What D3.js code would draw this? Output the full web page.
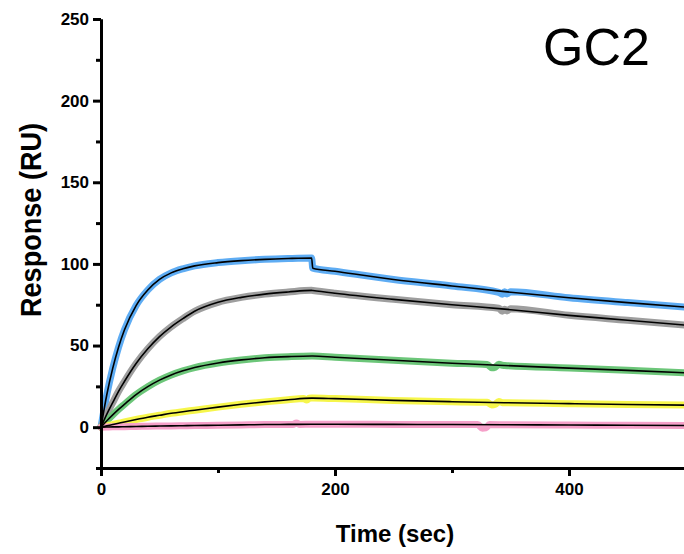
<!DOCTYPE html>
<html lang="en">
<head>
  <meta charset="UTF-8">
  <title>GC2 sensorgram</title>
  <style>
    body { margin: 0; background: #fff; }
    svg { display: block; font-family: "Liberation Sans", Arial, sans-serif; }
  </style>
</head>
<body>
  <svg id="svg" width="684" height="554"></svg>

  <script src="https://d3js.org/d3.v7.min.js"></script>
  <script>
    // ------ DATA -----------------------------------------------
    // shared time points (sec) for association and dissociation phases
    const assocTimes = [0, 5, 10, 15, 20, 30, 40, 50, 60, 70, 80, 100, 120, 140, 160, 180]
    const dissocTimes = [181, 200, 250, 300, 345, 400, 450, 500]

    // fitted response (RU) per concentration
    const blueAssoc = [0, 20, 36, 49, 59.5, 74.5, 84, 90.5, 94.5, 97, 98.8, 100.8, 102, 102.8, 103.3, 103.6]
    const blueDissoc = [97.4, 95.5, 90.5, 86.5, 83, 79.3, 76.3, 73.5]
    const greyAssoc = [0, 8, 15, 22, 28, 39, 48, 55.5, 61.5, 66.5, 71, 76.5, 79.5, 81.5, 82.8, 83.8]
    const greyDissoc = [83.7, 82, 78.3, 75, 72.3, 68.5, 65.5, 62.5]
    const greenAssoc = [0, 3.9, 7.5, 10.9, 14, 20, 24.8, 28.8, 32, 34.5, 36.5, 39.3, 41.2, 42.5, 43.2, 43.6]
    const greenDissoc = [43.6, 42.8, 41, 39.2, 37.8, 36.2, 34.8, 33.3]
    const yellowAssoc = [0, 0.8, 1.6, 2.4, 3.2, 4.7, 6.1, 7.3, 8.5, 9.5, 10.4, 12.3, 14, 15.5, 16.8, 17.8]
    const yellowDissoc = [17.8, 17.5, 16.4, 15.6, 15, 14.4, 13.9, 13.5]
    const pinkAssoc = [0, 0.1, 0.2, 0.2, 0.3, 0.4, 0.6, 0.7, 0.8, 0.9, 1.0, 1.2, 1.4, 1.6, 1.7, 1.8]
    const pinkDissoc = [1.8, 1.8, 1.7, 1.6, 1.5, 1.3, 1.2, 1.0]

    // injection artefacts seen only in the raw traces [time, RU]
    const blueBlips = [[340, 82.6], [343, 81.4], [347, 81.6], [350, 83]]
    const greyBlips = [[340, 72.8], [343, 71], [347, 71.2], [350, 72.6]]
    const greenBlips = [[330, 38.4], [334, 36.4], [337, 36.8], [340, 38.6], [343, 37.9]]
    const yellowBlips = [[173, 17.6], [176, 16.6], [178, 17.7], [330, 15.2], [334, 13.6], [337, 14], [340, 15.8], [343, 15]]
    const pinkBlips = [[164, 1.7], [167, 2.6], [170, 1.7], [322, 1.6], [326, -0.6], [329, -0.4], [332, 1.6]]

    const seriesColors = ['#5eacf3', '#9e9e9e', '#6cc679', '#f6f64b', '#f5a0c9']

    // ticks
    const yMajor = [0, 50, 100, 150, 200, 250]
    const yMinor = [-25, 25, 75, 125, 175, 225]
    const xMajor = [0, 200, 400]
    const xMinor = [100, 300]

    // ------ BUILD SERIES ------------------------
    const times = assocTimes.concat(dissocTimes)
    const fits = [
      blueAssoc.concat(blueDissoc),
      greyAssoc.concat(greyDissoc),
      greenAssoc.concat(greenDissoc),
      yellowAssoc.concat(yellowDissoc),
      pinkAssoc.concat(pinkDissoc)
    ].map(vals => vals.map((v, i) => [times[i], v]))
    const blips = [blueBlips, greyBlips, greenBlips, yellowBlips, pinkBlips]
    const raws = fits.map((f, i) => f.concat(blips[i]).sort((a, b) => a[0] - b[0]))

    // ------ SCALES ------------------------
    const x = d3.scaleLinear().domain([0, 500]).range([101, 686])
    const y = d3.scaleLinear().domain([-25, 250]).range([468, 19])

    const svg = d3.select('#svg')

    // ------ LINES ------------------------
    const line = d3.line()
      .x(d => x(d[0]))
      .y(d => y(d[1]))
      .curve(d3.curveMonotoneX)

    // raw traces, thick and coloured
    svg.append('g')
      .selectAll('path')
      .data(raws)
      .join('path')
      .attr('d', line)
      .attr('fill', 'none')
      .attr('stroke', (d, i) => seriesColors[i])
      .attr('stroke-width', 7)
      .attr('stroke-linejoin', 'round')
      .attr('stroke-linecap', 'round')

    // fitted curves, thin black on top
    svg.append('g')
      .selectAll('path')
      .data(fits)
      .join('path')
      .attr('d', line)
      .attr('fill', 'none')
      .attr('stroke', '#000')
      .attr('stroke-width', 1.6)

    // ------ AXES ------------------------
    function styleAxis(g) {
      g.select('.domain').attr('stroke-width', 3)
      g.selectAll('.tick line').attr('stroke-width', 3)
      g.selectAll('.tick text')
        .attr('font-size', 17)
        .attr('font-weight', 'bold')
        .attr('fill', '#000')
        .attr('font-family', '"Liberation Sans", Arial, sans-serif')
    }

    svg.append('g')
      .attr('transform', `translate(0, ${y(-25)})`)
      .call(d3.axisBottom(x).tickValues(xMinor).tickSize(5).tickSizeOuter(0).tickFormat(''))
      .call(styleAxis)
    svg.append('g')
      .attr('transform', `translate(0, ${y(-25)})`)
      .call(d3.axisBottom(x).tickValues(xMajor).tickSize(8).tickSizeOuter(0).tickPadding(7))
      .call(styleAxis)

    svg.append('g')
      .attr('transform', `translate(${x(0)}, 0)`)
      .call(d3.axisLeft(y).tickValues(yMinor).tickSize(5).tickSizeOuter(0).tickFormat(''))
      .call(styleAxis)
    svg.append('g')
      .attr('transform', `translate(${x(0)}, 0)`)
      .call(d3.axisLeft(y).tickValues(yMajor).tickSize(8).tickSizeOuter(0).tickPadding(4))
      .call(styleAxis)

    // ------ TITLES ------------------------
    svg.append('text')
      .attr('x', 395)
      .attr('y', 542)
      .attr('text-anchor', 'middle')
      .attr('font-size', 24)
      .attr('font-weight', 'bold')
      .text('Time (sec)')

    svg.append('text')
      .attr('transform', 'translate(41, 220) rotate(-90)')
      .attr('text-anchor', 'middle')
      .attr('font-size', 29)
      .attr('font-weight', 'bold')
      .attr('textLength', 194)
      .attr('lengthAdjust', 'spacingAndGlyphs')
      .text('Response (RU)')

    svg.append('text')
      .attr('x', 543)
      .attr('y', 65)
      .attr('font-size', 52)
      .text('GC2')
  </script>
</body>
</html>
